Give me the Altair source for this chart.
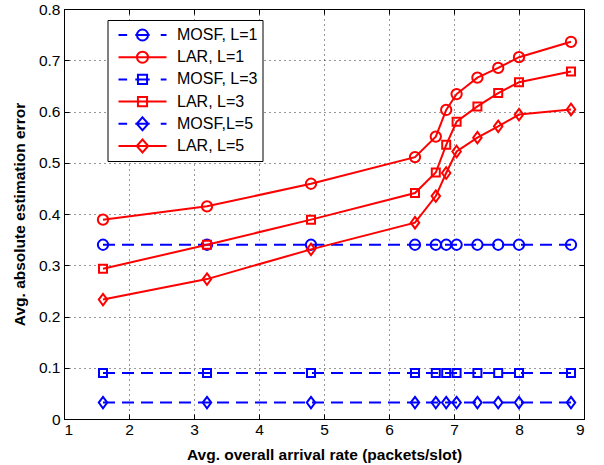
import altair as alt
import pandas as pd

# ---- data ----
x_vals = [1.6, 3.2, 4.8, 6.4, 6.72, 6.88, 7.04, 7.36, 7.68, 8.0, 8.8]
mosf_l1 = [0.34, 0.34, 0.34, 0.34, 0.34, 0.34, 0.34, 0.34, 0.34, 0.34, 0.34]
lar_l1 = [0.389, 0.415, 0.459, 0.511, 0.551, 0.603, 0.634, 0.666, 0.685, 0.706, 0.736]
mosf_l3 = [0.09, 0.09, 0.09, 0.09, 0.09, 0.09, 0.09, 0.09, 0.09, 0.09, 0.09]
lar_l3 = [0.293, 0.340, 0.389, 0.441, 0.481, 0.535, 0.580, 0.610, 0.636, 0.657, 0.678]
mosf_l5 = [0.032, 0.032, 0.032, 0.032, 0.032, 0.032, 0.032, 0.032, 0.032, 0.032, 0.032]
lar_l5 = [0.233, 0.273, 0.331, 0.383, 0.435, 0.480, 0.522, 0.549, 0.571, 0.594, 0.604]

series_names = ["MOSF, L=1", "LAR, L=1", "MOSF, L=3", "LAR, L=3", "MOSF,L=5", "LAR, L=5"]
series_values = [mosf_l1, lar_l1, mosf_l3, lar_l3, mosf_l5, lar_l5]
series_method = ["MOSF", "LAR", "MOSF", "LAR", "MOSF", "LAR"]
series_L = [1, 1, 3, 3, 5, 5]
x_ticks = [1, 2, 3, 4, 5, 6, 7, 8, 9]
y_ticks = [0, 0.1, 0.2, 0.3, 0.4, 0.5, 0.6, 0.7, 0.8]

# ---- styles ----
BLUE = "#0000ff"
RED = "#ff0000"
colors = [BLUE, RED, BLUE, RED, BLUE, RED]
DIAMOND = "M0,-1.15L0.85,0L0,1.15L-0.85,0Z"

rows = []
for name, meth, L, vals in zip(series_names, series_method, series_L, series_values):
    for i, (xv, yv) in enumerate(zip(x_vals, vals)):
        rows.append({"series": name, "method": meth, "L": L, "x": xv, "y": yv, "i": i})
df = pd.DataFrame(rows)

# legend symbols: line + marker drawn as one path (unit coords, 1 unit = 24px)
circ = "M-0.23,0A0.23,0.23,0,1,0,0.23,0A0.23,0.23,0,1,0,-0.23,0Z"
sq = "M-0.19,-0.19L0.19,-0.19L0.19,0.19L-0.19,0.19Z"
dia = "M0,-0.27L0.24,0L0,0.27L-0.24,0Z"
dash_line = "M-1,0L-0.64,0M-0.3,0L0.3,0M0.76,0L1,0"
solid_line = "M-1,0L1,0"
legend_paths = {
    "MOSF, L=1": dash_line + circ,
    "LAR, L=1": solid_line + circ,
    "MOSF, L=3": dash_line + sq,
    "LAR, L=3": solid_line + sq,
    "MOSF,L=5": dash_line + dia,
    "LAR, L=5": solid_line + dia,
}
expr = "'" + legend_paths[series_names[-1]] + "'"
for name in reversed(series_names[:-1]):
    expr = f"datum.value === '{name}' ? '{legend_paths[name]}' : " + expr

FONT = "Liberation Sans"

x_scale = alt.Scale(domain=[1, 9], nice=False, zero=False)
y_scale = alt.Scale(domain=[0, 0.8], nice=False, zero=False)

color = alt.Color(
    "series:N",
    sort=series_names,
    scale=alt.Scale(domain=series_names, range=colors),
    legend=alt.Legend(
        title=None,
        orient="none",
        legendX=43.5,
        legendY=11,
        padding=5,
        symbolOffset=5,
        labelOffset=9.5,
        clipHeight=20,
        rowPadding=2.2,
        symbolSize=2304,
        symbolStrokeWidth=2,
        symbolType={"expr": expr},
        symbolFillColor="transparent",
        symbolOpacity=1,
        labelFont=FONT,
        labelFontSize=16,
        labelColor="black",
        strokeColor="black",
        fillColor="white",
        cornerRadius=0,
    ),
)

x_axis = alt.Axis(
    values=x_ticks, format="d", title="Avg. overall arrival rate (packets/slot)",
    labelFont=FONT, labelFontSize=15.5, labelColor="black", labelPadding=8,
    tickSize={"expr": "-5"}, tickColor="black", domainColor="black",
    grid=True, gridDash=[1, 4], gridColor="#000000", gridOpacity=0.8,
    titleFont=FONT, titleFontSize=15.5, titleFontWeight="bold", titleColor="black",
    titlePadding=10,
)
y_axis = alt.Axis(
    values=y_ticks, format=".1~f", title="Avg. absolute estimation error",
    labelFont=FONT, labelFontSize=15.5, labelColor="black", labelPadding=9,
    tickSize={"expr": "-5"}, tickColor="black", domainColor="black",
    grid=True, gridDash=[1, 4], gridColor="#000000", gridOpacity=0.8,
    titleFont=FONT, titleFontSize=15.5, titleFontWeight="bold", titleColor="black",
    titlePadding=11,
)

base = alt.Chart(df)
X = alt.X("x:Q", scale=x_scale, axis=x_axis)
Y = alt.Y("y:Q", scale=y_scale, axis=y_axis)

lines_mosf = base.transform_filter(alt.datum.method == "MOSF").mark_line(
    strokeWidth=2, strokeDash=[12, 7]
).encode(x=X, y=Y, color=color, order="i:Q")

lines_lar = base.transform_filter(alt.datum.method == "LAR").mark_line(
    strokeWidth=2
).encode(x=X, y=Y, color=color, order="i:Q")


def markers(L, shape, size):
    return base.transform_filter(alt.datum.L == L).mark_point(
        filled=False, strokeWidth=2, opacity=1, shape=shape, size=size
    ).encode(x=X, y=Y, color=color)


data_layers = alt.layer(
    lines_mosf, markers(1, "circle", 106).transform_filter(alt.datum.method == "MOSF"),
    lines_lar,
    markers(1, "circle", 106).transform_filter(alt.datum.method == "LAR"),
    markers(3, "square", 64),
    markers(5, DIAMOND, 100),
)

frame_ticks = base.mark_line(opacity=0).encode(
    x=alt.X("x:Q", scale=x_scale, axis=alt.Axis(
        orient="top", values=x_ticks, labels=False, grid=False, domain=False,
        tickSize={"expr": "-5"}, tickColor="black", title=None)),
    y=alt.Y("y:Q", scale=y_scale, axis=alt.Axis(
        orient="right", values=y_ticks, labels=False, grid=False, domain=False,
        tickSize={"expr": "-5"}, tickColor="black", title=None)),
    detail="series:N",
)

chart = (
    alt.layer(data_layers, frame_ticks)
    .resolve_scale(x="independent", y="independent")
    .properties(
        width=520,
        height=410,
        autosize=alt.AutoSizeParams(type="none"),
        padding={"left": 64, "top": 9, "right": 20, "bottom": 46},
        background="white",
    )
    .configure_view(stroke="black", strokeWidth=1)
)

chart.save("out.html", embed_options={"renderer": "svg", "actions": False})
